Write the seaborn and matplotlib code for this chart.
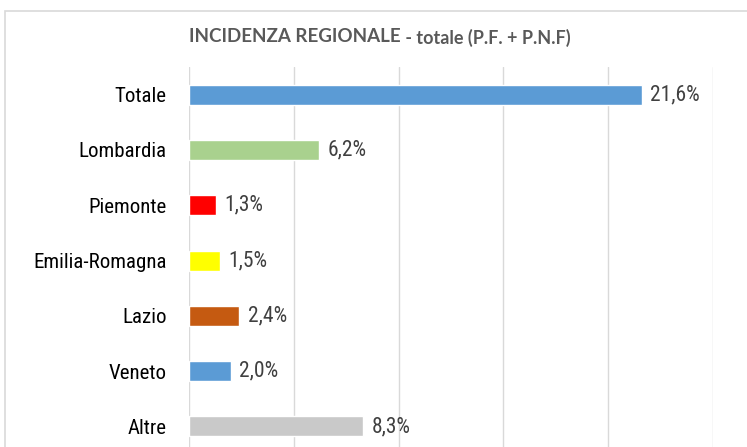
import matplotlib
matplotlib.use("Agg")
import matplotlib.pyplot as plt
import matplotlib.font_manager as fm
import seaborn as sns
import pandas as pd
from matplotlib.patches import Rectangle

categories = ["Totale", "Lombardia", "Piemonte", "Emilia-Romagna", "Lazio", "Veneto", "Altre"]
values = [21.6, 6.2, 1.3, 1.5, 2.4, 2.0, 8.3]
colors = ["#5B9BD5", "#A9D18E", "#FF0000", "#FFFF00", "#C55A11", "#5B9BD5", "#C9C9C9"]
title_main = "INCIDENZA REGIONALE"
title_sub = " - totale (P.F. + P.N.F)"

df = pd.DataFrame({"cat": categories, "val": values})

sns.set_style("white")
W, H = 747, 447
fig = plt.figure(figsize=(W / 100, H / 100), dpi=100)

available = {f.name for f in fm.fontManager.ttflist}
narrow_choice = None
for name in ["Liberation Sans Narrow", "Arial Narrow", "Roboto Condensed"]:
    if name in available:
        narrow_choice = name
        break
if narrow_choice:
    lab_font = [narrow_choice, "DejaVu Sans"]
    cat_size, val_size = 15, 15.5
else:
    lab_font = ["Liberation Sans", "DejaVu Sans"]
    cat_size, val_size = 13, 12.5

# chart area border (extends beyond the crop)
fig.patches.append(Rectangle((5 / W, -0.2), 2.0, 1 - 11 / H + 0.2, transform=fig.transFigure,
                             fill=False, edgecolor="#D9D9D9", linewidth=1.2, zorder=0))

top_px, band = 67, 55.3
bottom_px = top_px + band * len(categories)
ax = fig.add_axes([189 / W, 1 - bottom_px / H, 524 / W, band * len(categories) / H])

sns.barplot(data=df, y="cat", x="val", hue="cat", palette=colors, legend=False,
            orient="h", width=0.36, ax=ax, saturation=1, zorder=3)

ax.set_xlim(0, 25)
ax.set_xticks([0, 5, 10, 15, 20, 25])
ax.grid(axis="x", color="#D9D9D9", linewidth=1, zorder=0)
ax.grid(axis="y", visible=False)
ax.set_axisbelow(True)
for s in ax.spines.values():
    s.set_visible(False)
ax.set_xlabel("")
ax.set_ylabel("")
ax.tick_params(axis="x", length=0, labelbottom=False)
ax.tick_params(axis="y", length=0, pad=16)
for lbl in ax.get_yticklabels():
    lbl.set_fontfamily(lab_font)
    lbl.set_fontsize(cat_size)
    lbl.set_color("#000000")

for i, v in enumerate(values):
    ax.annotate(f"{v:.1f}%".replace(".", ","), xy=(v, i), xytext=(6, 0),
                textcoords="offset points", va="center", ha="left",
                fontsize=val_size, family=lab_font, color="#404040")

# title in two parts
t1 = fig.text(189 / W, 1 - 37 / H, title_main, ha="left", va="center",
              fontsize=13.5, fontweight="bold", color="#595959", family=["Lato", "DejaVu Sans"])
fig.canvas.draw()
bb = t1.get_window_extent()
fig.text(bb.x1 / W, 1 - 38 / H, title_sub, ha="left", va="center",
         fontsize=13, fontweight="bold", color="#595959", family=["Lato", "DejaVu Sans"])

fig.savefig("out.png", dpi=100)
